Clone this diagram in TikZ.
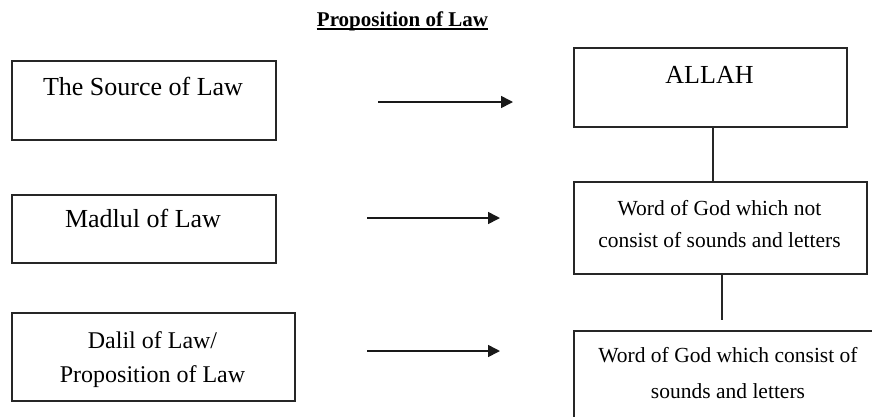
\documentclass[tikz,border=0pt]{standalone}
\usepackage{fontspec}
\setmainfont{Liberation Serif}
\usetikzlibrary{arrows.meta}
\begin{document}
\begin{tikzpicture}[x=1pt,y=-1pt,
  box/.style={draw=black!85,line width=2pt,anchor=north west,inner sep=0pt},
  big/.style={inner sep=0pt,anchor=base,font=\fontsize{26}{30}\selectfont},
  mid/.style={inner sep=0pt,anchor=base,align=center,font=\fontsize{24}{34}\selectfont},
  small/.style={inner sep=0pt,anchor=base,align=center,font=\fontsize{21.5}{32}\selectfont},
  arr/.style={line width=1.6pt,black!90,-{Triangle[length=12pt,width=12pt]}},
  link/.style={line width=2pt,black!85}]
\useasboundingbox (0,0) rectangle (872,416);
\clip (0,0) rectangle (872,416);
% title
\node[inner sep=0pt,anchor=base,font=\bfseries\fontsize{21}{24}\selectfont] (title) at (402.5,26) {Proposition of Law};
\draw[line width=1.5pt] ([yshift=-3pt]title.base west) -- ([yshift=-3pt]title.base east);
% left boxes
\node[box,minimum width=264pt,minimum height=79pt] (src) at (11,60) {};
\node[big] (tsrc) at (143,95) {The Source of Law};
\node[box,minimum width=264pt,minimum height=68pt] (mad) at (11,194) {};
\node[big] (tmad) at (143,227) {Madlul of Law};
\node[box,minimum width=283pt,minimum height=88pt] (dal) at (11,312) {};
\node[mid] (tdal) at (152.5,382) {Dalil of Law/\\Proposition of Law};
% right boxes
\node[box,minimum width=273pt,minimum height=79pt] (allah) at (573,47) {};
\node[big] (tallah) at (709.5,83) {ALLAH};
\node[box,minimum width=293pt,minimum height=92pt] (midb) at (573,181) {};
\node[small] (tmid) at (719.5,247) {Word of God which not\\consist of sounds and letters};
\node[box,minimum width=310pt,minimum height=100pt] (bot) at (573,330) {};
\node[small,font=\fontsize{21.5}{36}\selectfont] (tbot) at (728,398) {Word of God which consist of\\sounds and letters};
% arrows
\coordinate (a1s) at (378,102); \coordinate (a1e) at (513,102);
\coordinate (a2s) at (367,218); \coordinate (a2e) at (500,218);
\coordinate (a3s) at (367,351); \coordinate (a3e) at (500,351);
\draw[arr] (a1s) -- (a1e);
\draw[arr] (a2s) -- (a2e);
\draw[arr] (a3s) -- (a3e);
% vertical links
\coordinate (v1) at (713,0);
\coordinate (v2) at (722,0);
\coordinate (v2e) at (722,320);
\draw[link] (allah.south -| v1) -- (midb.north -| v1);
\draw[link] (midb.south -| v2) -- (v2e);
\end{tikzpicture}
\end{document}
